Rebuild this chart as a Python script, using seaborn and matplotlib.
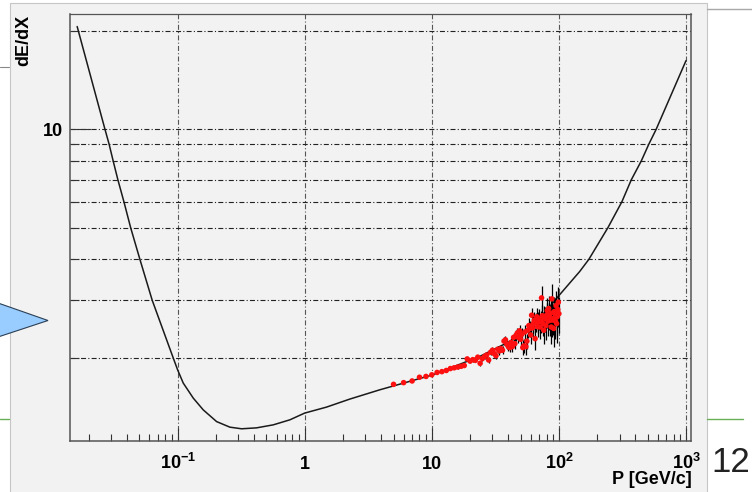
import matplotlib
matplotlib.use("Agg")
import matplotlib.pyplot as plt
import seaborn as sns
from matplotlib.patches import Rectangle, Polygon
from matplotlib.lines import Line2D
from matplotlib.ticker import FixedLocator, NullFormatter

# ---------------- data ----------------
curve_p = [0.0162, 0.0268, 0.0289, 0.0311, 0.0339, 0.0378, 0.0427, 0.0505,
           0.0631, 0.0923, 0.100, 0.1107, 0.1327, 0.159, 0.2027, 0.2577,
           0.3186, 0.418, 0.565, 0.764, 1.00, 1.483, 2.26, 3.89, 10.2, 23.8,
           43.5, 66.4, 100, 145.5, 172, 243, 313, 371, 445, 510, 583, 1000]
curve_dedx = [20.6, 10.0, 9.0, 8.0, 7.0, 6.0, 5.0, 4.0,
              3.0, 2.0, 1.838, 1.675, 1.507, 1.387, 1.277, 1.228,
              1.214, 1.222, 1.248, 1.293, 1.356, 1.414, 1.496, 1.597, 1.775, 2.02,
              2.27, 2.555, 3.10, 3.67, 4.0, 5.0, 6.0, 7.0, 8.0, 9.0, 10.0, 16.2]

data_p = list(range(5, 101))
data_dedx = [1.66, 1.68, 1.70, 1.745, 1.755, 1.775,
             1.805, 1.815, 1.83, 1.855, 1.865, 1.875, 1.885, 1.895, 1.985, 1.955,
             1.975, 1.965, 2.01, 1.925, 1.99, 2.02, 2.04, 1.97, 2.08, 2.11,
             2.06, 2.03, 2.125, 2.10, 2.135, 2.11, 2.25, 2.27, 2.20, 2.165,
             2.15, 2.23, 2.165, 2.31, 2.21, 2.34, 2.38, 2.31, 2.42, 2.28,
             2.36, 2.15, 2.175, 2.40, 2.165, 2.25, 2.43, 2.51, 2.46, 2.35,
             2.70, 2.47, 2.545, 2.605, 2.29, 2.57, 2.67, 2.49, 2.575, 2.63,
             2.485, 2.59, 3.05, 2.69, 2.545, 2.43, 2.65, 2.635, 2.51, 2.70,
             2.79, 2.59, 2.83, 2.69, 2.605, 2.74, 2.485, 3.03, 2.61, 2.635,
             2.46, 2.77, 2.73, 2.59, 2.89, 2.545, 2.67, 2.81, 2.96, 2.73]
data_err = [0.012, 0.012, 0.013, 0.013, 0.014, 0.015,
            0.016, 0.017, 0.018, 0.019, 0.020, 0.021, 0.022, 0.024, 0.025, 0.026,
            0.028, 0.029, 0.031, 0.032, 0.034, 0.036, 0.038, 0.040, 0.042, 0.044,
            0.046, 0.048, 0.050, 0.053, 0.055, 0.058, 0.060, 0.063, 0.066, 0.068,
            0.071, 0.074, 0.077, 0.080, 0.083, 0.086, 0.090, 0.093, 0.096, 0.10,
            0.10, 0.11, 0.11, 0.12, 0.12, 0.12, 0.13, 0.13, 0.14, 0.14,
            0.15, 0.15, 0.16, 0.16, 0.17, 0.17, 0.18, 0.18, 0.19, 0.19,
            0.20, 0.20, 0.26, 0.21, 0.22, 0.22, 0.23, 0.23, 0.24, 0.24,
            0.25, 0.25, 0.27, 0.26, 0.27, 0.27, 0.28, 0.33, 0.29, 0.29,
            0.30, 0.30, 0.31, 0.31, 0.32, 0.32, 0.33, 0.33, 0.34, 0.34]

x_ticks = [0.1, 1, 10, 100, 1000]
x_tick_labels = [r"$10^{-1}$", "1", "10", r"$10^{2}$", r"$10^{3}$"]
x_minor = [k * 10.0 ** e for e in range(-2, 3) for k in range(2, 10)]
y_ticks = [10]
y_tick_labels = ["10"]
y_minor = [2, 3, 4, 5, 6, 7, 8, 9, 20]
x_title = "P [GeV/c]"
y_title = "dE/dX"
page_number = "12"

# ---------------- style ----------------
sns.set_theme(style="white")
plt.rcParams['font.family'] = ['Liberation Sans', 'DejaVu Sans']
plt.rcParams['mathtext.fontset'] = 'custom'
for k in ['rm', 'it', 'bf', 'sf']:
    plt.rcParams['mathtext.' + k] = 'Liberation Sans:bold'
plt.rcParams['mathtext.default'] = 'rm'

W, H = 752, 492
fig = plt.figure(figsize=(W / 100, H / 100), dpi=100)
fig.patch.set_facecolor('white')

def fx(px):
    return px / W

def fy(py):
    return 1 - py / H

# canvas panel
fig.add_artist(Rectangle((fx(9.5), fy(495)), fx(706.5) - fx(9.5), fy(2.5) - fy(495),
                         transform=fig.transFigure, facecolor='#f2f2f2',
                         edgecolor='#c6c6c6', lw=0.8, zorder=0))

ax = fig.add_axes([fx(70), fy(441), fx(691) - fx(70), fy(14) - fy(441)])
ax.set_facecolor('#f2f2f2')
ax.set_xscale('log')
ax.set_yscale('log')

ax.errorbar(data_p, data_dedx, yerr=data_err, fmt='none', ecolor='black',
            elinewidth=0.9, capsize=0, zorder=3)
sns.lineplot(x=curve_p, y=curve_dedx, ax=ax, color='#1a1a1a', lw=1.1,
             sort=False, estimator=None, zorder=2.5)
sns.scatterplot(x=data_p, y=data_dedx, ax=ax, color='#ff1010', s=16,
                edgecolor='none', linewidth=0, zorder=4)

ax.set_xlim(0.01423, 1095)
ax.set_ylim(1.114, 22.5)

ax.xaxis.set_major_locator(FixedLocator(x_ticks))
ax.xaxis.set_minor_locator(FixedLocator(x_minor))
ax.xaxis.set_minor_formatter(NullFormatter())
ax.yaxis.set_major_locator(FixedLocator(y_ticks))
ax.yaxis.set_minor_locator(FixedLocator(y_minor))
ax.yaxis.set_minor_formatter(NullFormatter())
ax.set_xticklabels(x_tick_labels, va='baseline', fontweight='bold')
ax.set_yticklabels(y_tick_labels, fontweight='bold')

ax.tick_params(axis='both', which='both', direction='in', colors='#333333',
               bottom=True, left=True, top=False, right=False, width=0.8,
               labelsize=13, labelcolor='black')
ax.tick_params(axis='x', which='major', length=9.4, pad=20.5)
ax.tick_params(axis='x', which='minor', length=5)
ax.tick_params(axis='y', which='major', length=15, pad=5)
ax.tick_params(axis='y', which='minor', length=6.5)

grid_ls = (0, (4.5, 2, 1, 2))
ax.set_axisbelow(True)
ax.xaxis.grid(True, which='major', color='#555555', lw=0.8, linestyle=grid_ls)
ax.xaxis.grid(False, which='minor')
ax.yaxis.grid(True, which='both', color='#222222', lw=0.8, linestyle=grid_ls)

for side, sp in ax.spines.items():
    sp.set_visible(True)
    sp.set_color('#555555')
    sp.set_linewidth(1.1 if side in ('left', 'bottom', 'right') else 0.9)

ax.set_xlabel('')
ax.set_ylabel('')
fig.text(fx(24), fy(15), y_title, rotation=90, ha='center', va='top',
         fontsize=13, fontweight='bold', color='black')
fig.text(fx(692), fy(483.5), x_title, ha='right', va='baseline',
         fontsize=13, fontweight='bold', color='black')

# slide decorations around the picture
fig.add_artist(Polygon([(fx(-2), fy(303)), (fx(48), fy(320.5)), (fx(-2), fy(337))],
                       closed=True, transform=fig.transFigure, facecolor='#99ccff',
                       edgecolor='#2b3f55', lw=0.8, zorder=5))
fig.add_artist(Line2D([fx(0), fx(9)], [fy(418.5), fy(418.5)], transform=fig.transFigure,
                      color='#6aae55', lw=1.0))
fig.add_artist(Line2D([fx(707), fx(743)], [fy(419), fy(419)], transform=fig.transFigure,
                      color='#6aae55', lw=1.0))
fig.add_artist(Line2D([fx(707), fx(752)], [fy(9.3), fy(9.3)], transform=fig.transFigure,
                      color='#a8a8a8', lw=1.0))
fig.add_artist(Line2D([fx(0), fx(9)], [fy(67), fy(67)], transform=fig.transFigure,
                      color='#888888', lw=0.8))
fig.text(fx(711), fy(472), page_number, ha='left', va='baseline', fontsize=25,
         color='#222222', family=['Liberation Sans', 'DejaVu Sans'])

fig.savefig('out.png', dpi=100, facecolor='white')
